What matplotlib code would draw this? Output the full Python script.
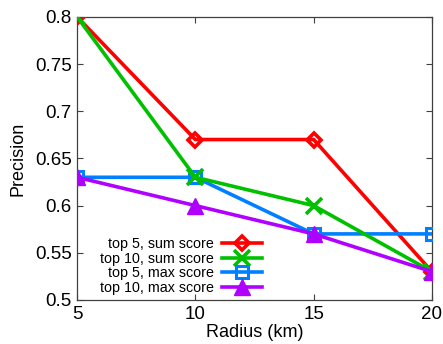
import numpy as np
import matplotlib
matplotlib.use("Agg")
import matplotlib.pyplot as plt

plt.rcParams['font.family'] = ['Liberation Sans', 'DejaVu Sans']

radius = [5, 10, 15, 20]
top5_sum = [0.80, 0.67, 0.67, 0.53]
top10_sum = [0.80, 0.63, 0.60, 0.53]
top5_max = [0.63, 0.63, 0.57, 0.57]
top10_max = [0.63, 0.60, 0.57, 0.53]
labels = ["top 5, sum score", "top 10, sum score", "top 5, max score", "top 10, max score"]

fig = plt.figure(figsize=(4.43, 3.44), dpi=100)
ax = fig.add_axes([0.174, 0.128, 0.801, 0.823])

ax.plot(radius, top5_sum, color='#ff0000', lw=2.6, marker='D', ms=7.5,
        mfc='none', mew=2.6, label=labels[0], zorder=3)
ax.plot(radius, top10_sum, color='#00c000', lw=2.6, marker='x', ms=11,
        mew=2.6, label=labels[1], zorder=4)
ax.plot(radius, top5_max, color='#0080ff', lw=2.6, marker='s', ms=9,
        mfc='none', mew=2.2, label=labels[2], zorder=3)
ax.plot(radius, top10_max, color='#b000ff', lw=2.6, marker='^', ms=11,
        label=labels[3], zorder=5)

ax.set_xlim(5, 20)
ax.set_ylim(0.5, 0.8)
ax.set_xticks(radius)
ax.set_yticks(np.arange(0.5, 0.801, 0.05))
ax.set_yticklabels(['0.5', '0.55', '0.6', '0.65', '0.7', '0.75', '0.8'])
ax.tick_params(direction='in', top=True, right=True, labelsize=13.5,
               length=4, width=0.8, color='#404040', pad=4)
for s in ax.spines.values():
    s.set_color('#404040')
    s.set_linewidth(0.9)

ax.set_xlabel("Radius (km)", fontsize=13, labelpad=1)
ax.set_ylabel("Precision", fontsize=13, labelpad=6)

leg = ax.legend(loc='lower right', bbox_to_anchor=(0.55, -0.018), markerfirst=False,
                frameon=False, fontsize=10.3, handlelength=2.8, handletextpad=0.6,
                labelspacing=0.05, borderaxespad=0.3)
for t in leg.get_texts():
    t.set_ha('right')

fig.savefig("out.png", dpi=100)
